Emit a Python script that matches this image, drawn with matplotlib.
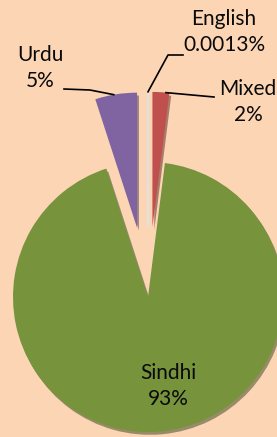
import matplotlib.pyplot as plt
import numpy as np

labels = ['English', 'Mixed', 'Sindhi', 'Urdu']
shares = [0.0013, 2, 93, 5]
share_text = ['0.0013%', '2%', '93%', '5%']
colors = ['#d8d4d0', '#c0504d', '#77933c', '#8064a2']
explode = [0.52, 0.52, 0.0, 0.52]

plt.rcParams['font.family'] = ['Lato', 'DejaVu Sans']
bg = '#fcd5b5'

fig = plt.figure(figsize=(2.77, 4.37), dpi=100, facecolor=bg)
ax = fig.add_axes([0, 0, 1, 1])
ax.set_facecolor(bg)

wedges, _ = ax.pie(shares, colors=colors, explode=explode, startangle=90,
                   counterclock=False, radius=1.0,
                   shadow={'ox': 0.01, 'oy': -0.015, 'shade': 0.55},
                   wedgeprops={'linewidth': 0})
# the English slice is too thin to see as a wedge, draw its edge
wedges[0].set_edgecolor('#e4e0dc')
wedges[0].set_linewidth(1.6)

# pixel -> data (pie centre at px (148, 297), radius 135 px)
def p(px, py):
    return ((px - 148) / 135.0, (297 - py) / 135.0)

ax.set_xlim(-148 / 135.0, (277 - 148) / 135.0)
ax.set_ylim(-(437 - 297) / 135.0, 297 / 135.0)
ax.set_aspect('equal')
ax.axis('off')

def rim(w, frac):
    a = np.deg2rad(w.theta1 + (w.theta2 - w.theta1) * frac)
    cx, cy = w.center
    return (cx + w.r * np.cos(a), cy + w.r * np.sin(a))

fs = 15
tc = '#0a0a0a'
# Sindhi label inside
ax.text(*p(168, 386), labels[2] + '\n' + share_text[2], ha='center', va='center',
        fontsize=fs, linespacing=1.4, color=tc)
# Urdu
ax.text(*p(40, 68), labels[3] + '\n' + share_text[3], ha='center', va='center',
        fontsize=fs, linespacing=1.4, color=tc)
s = rim(wedges[3], 0.55)
xs = [s[0], p(90, 90)[0], p(64, 89)[0]]
ys = [s[1], p(90, 90)[1], p(64, 89)[1]]
ax.plot(xs, ys, color='black', lw=1.2)
# English
ax.text(*p(224, 32), labels[0] + '\n' + share_text[0], ha='center', va='center',
        fontsize=fs, linespacing=1.4, color=tc)
s = rim(wedges[0], 0.5)
ax.plot([s[0], p(168, 55)[0], p(183, 55)[0]], [s[1], p(168, 55)[1], p(183, 55)[1]],
        color='black', lw=1.2)
# Mixed
ax.text(*p(248, 102), labels[1] + '\n' + share_text[1], ha='center', va='center',
        fontsize=fs, linespacing=1.4, color=tc)
s = rim(wedges[1], 0.2)
ax.plot([s[0], p(214, 97)[0]], [s[1], p(214, 97)[1]], color='black', lw=1.2)

fig.savefig('out.png', dpi=100, facecolor=bg)
